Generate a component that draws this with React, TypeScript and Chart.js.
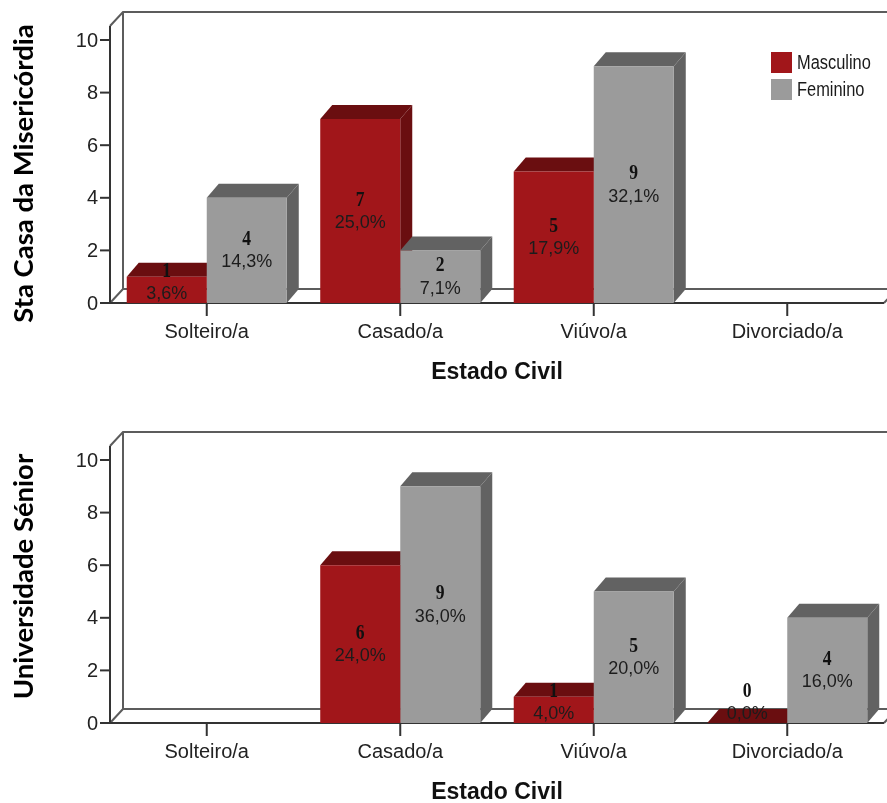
import React, { useEffect, useRef } from "react";
import { Chart, registerables } from "chart.js";

Chart.register(...registerables);

// Categories and tick values
const categories = ["Solteiro/a", "Casado/a", "Viúvo/a", "Divorciado/a"];
const seriesNames = ["Masculino", "Feminino"];
const yTicks = [0, 2, 4, 6, 8, 10];
const xTitle = "Estado Civil";

// Sta Casa da Misericórdia — counts and percentages
const santaCasaMasculino = [1, 7, 5, null];
const santaCasaFeminino = [4, 2, 9, null];
const santaCasaMasculinoPct = [3.6, 25.0, 17.9, null];
const santaCasaFemininoPct = [14.3, 7.1, 32.1, null];

// Universidade Sénior — counts and percentages
const seniorMasculino = [null, 6, 1, 0];
const seniorFeminino = [null, 9, 5, 4];
const seniorMasculinoPct = [null, 24.0, 4.0, 0.0];
const seniorFemininoPct = [null, 36.0, 20.0, 16.0];

const FRONT = ["#a1161a", "#9b9b9b"];
const DARK = ["#6a0e10", "#626262"];
const BAR_DEPTH = { x: 12, y: 14 };
const WALL_DEPTH = { x: 13, y: 14 };

const SANS = "'Liberation Sans', Arial, sans-serif";
const SERIF = "'Liberation Serif', 'Times New Roman', serif";

function fmtPct(v: number) {
  return v.toFixed(1).replace(".", ",") + "%";
}

// text drawn with a horizontal squeeze
function squeezed(ctx: CanvasRenderingContext2D, text: string, x: number, y: number, sx: number) {
  ctx.save();
  ctx.translate(x, y);
  ctx.scale(sx, 1);
  ctx.fillText(text, 0, 0);
  ctx.restore();
}

const panelPlugin = {
  id: "panel3d",
  beforeDatasetsDraw(chart: any) {
    const ctx = chart.ctx as CanvasRenderingContext2D;
    const ca = chart.chartArea;
    const W = chart.width;
    const y0 = ca.bottom;
    const frontTop = ca.top - 14;
    const bx = ca.left + WALL_DEPTH.x;
    const bTop = frontTop - WALL_DEPTH.y;
    const bFloor = y0 - WALL_DEPTH.y;

    ctx.save();
    // back wall and floor outline
    ctx.strokeStyle = "#5c5c5c";
    ctx.lineWidth = 2;
    ctx.beginPath();
    ctx.moveTo(ca.left, frontTop);
    ctx.lineTo(bx, bTop);
    ctx.lineTo(W, bTop);
    ctx.moveTo(bx, bTop);
    ctx.lineTo(bx, bFloor);
    ctx.lineTo(W, bFloor);
    ctx.moveTo(ca.left, y0);
    ctx.lineTo(bx, bFloor);
    ctx.moveTo(ca.right, y0);
    ctx.lineTo(ca.right + WALL_DEPTH.x, bFloor);
    ctx.stroke();

    // front axis lines
    ctx.strokeStyle = "#333333";
    ctx.beginPath();
    ctx.moveTo(ca.left, frontTop);
    ctx.lineTo(ca.left, y0);
    ctx.lineTo(ca.right, y0);
    ctx.stroke();

    // top and side faces of the bars, drawn behind the front faces
    const n = chart.data.labels.length;
    for (let i = 0; i < n; i++) {
      for (let d = 0; d < chart.data.datasets.length; d++) {
        const v = chart.data.datasets[d].data[i];
        if (v == null) continue;
        const el = chart.getDatasetMeta(d).data[i];
        const p = el.getProps(["x", "y", "base", "width"], true);
        const l = p.x - p.width / 2;
        const r = p.x + p.width / 2;
        const top = Math.min(p.y, p.base);
        const bottom = Math.max(p.y, p.base);
        const dx = BAR_DEPTH.x;
        const dy = BAR_DEPTH.y;
        ctx.fillStyle = DARK[d];
        ctx.beginPath();
        ctx.moveTo(l, top);
        ctx.lineTo(l + dx, top - dy);
        ctx.lineTo(r + dx, top - dy);
        ctx.lineTo(r, top);
        ctx.closePath();
        ctx.fill();
        ctx.beginPath();
        ctx.moveTo(r, top);
        ctx.lineTo(r + dx, top - dy);
        ctx.lineTo(r + dx, bottom - dy);
        ctx.lineTo(r, bottom);
        ctx.closePath();
        ctx.fill();
      }
    }
    ctx.restore();
  },
  afterDatasetsDraw(chart: any, _args: any, opts: any) {
    const ctx = chart.ctx as CanvasRenderingContext2D;
    const ca = chart.chartArea;
    const y0 = ca.bottom;
    const xs = chart.scales.x;
    const ys = chart.scales.y;
    ctx.save();

    // value labels: count and percentage
    const n = chart.data.labels.length;
    for (let d = 0; d < chart.data.datasets.length; d++) {
      const pcts = opts.percents[d];
      for (let i = 0; i < n; i++) {
        const v = chart.data.datasets[d].data[i];
        if (v == null) continue;
        const el = chart.getDatasetMeta(d).data[i];
        const p = el.getProps(["x", "y", "base"], true);
        const mid = (Math.min(p.y, p.base) + Math.max(p.y, p.base)) / 2;
        const c = Math.min(mid, y0 - 21);
        ctx.textAlign = "center";
        ctx.textBaseline = "middle";
        ctx.fillStyle = "#111111";
        ctx.font = `bold 22px ${SERIF}`;
        squeezed(ctx, String(v), p.x, c - 11, 0.8);
        ctx.fillStyle = "#1c1c1c";
        ctx.font = `18px ${SANS}`;
        ctx.fillText(fmtPct(pcts[i]), p.x, c + 12);
      }
    }

    // y axis ticks
    ctx.strokeStyle = "#333333";
    ctx.lineWidth = 2;
    ctx.fillStyle = "#222222";
    ctx.font = `20px ${SANS}`;
    ctx.textAlign = "right";
    ctx.textBaseline = "middle";
    for (const t of yTicks) {
      const py = ys.getPixelForValue(t);
      ctx.beginPath();
      ctx.moveTo(ca.left - 10, py);
      ctx.lineTo(ca.left, py);
      ctx.stroke();
      ctx.fillText(String(t), ca.left - 12, py + 1);
    }

    // x axis ticks and labels
    ctx.textAlign = "center";
    for (let i = 0; i < n; i++) {
      const px = xs.getPixelForValue(i);
      ctx.beginPath();
      ctx.moveTo(px, y0);
      ctx.lineTo(px, y0 + 13);
      ctx.stroke();
      ctx.fillText(chart.data.labels[i], px, y0 + 29);
    }

    // x title
    ctx.font = `bold 23px ${SANS}`;
    ctx.fillStyle = "#111111";
    ctx.fillText(xTitle, (ca.left + ca.right) / 2, y0 + 70);

    // y title (rotated)
    ctx.save();
    ctx.translate(24, (ca.top + ca.bottom) / 2 + opts.titleShift);
    ctx.rotate(-Math.PI / 2);
    ctx.font = `bold ${opts.titleSize}px Lato, ${SANS}`;
    ctx.fillStyle = "#000000";
    ctx.textAlign = "center";
    ctx.textBaseline = "middle";
    ctx.fillText(opts.title, 0, 0);
    ctx.restore();

    // legend
    if (opts.showLegend) {
      const lx = ca.right - 113;
      const ly = ca.top + 12;
      ctx.font = `20px ${SANS}`;
      ctx.textAlign = "left";
      ctx.textBaseline = "middle";
      for (let d = 0; d < chart.data.datasets.length; d++) {
        const sy = ly + d * 27;
        ctx.fillStyle = FRONT[d];
        ctx.fillRect(lx, sy, 21, 21);
        ctx.fillStyle = "#1a1a1a";
        squeezed(ctx, chart.data.datasets[d].label, lx + 26, sy + 11, 0.82);
      }
    }
    ctx.restore();
  },
};

type PanelProps = {
  title: string;
  titleSize: number;
  male: (number | null)[];
  female: (number | null)[];
  malePct: (number | null)[];
  femalePct: (number | null)[];
  showLegend: boolean;
  titleShift: number;
  top: number;
  height: number;
  padTop: number;
  padBottom: number;
};

function Panel(props: PanelProps) {
  const ref = useRef<HTMLCanvasElement | null>(null);
  useEffect(() => {
    if (!ref.current) return;
    const chart = new Chart(ref.current, {
      type: "bar",
      data: {
        labels: categories,
        datasets: [
          {
            label: seriesNames[0],
            data: props.male,
            backgroundColor: FRONT[0],
            borderWidth: 0,
            categoryPercentage: 0.827,
            barPercentage: 1,
          },
          {
            label: seriesNames[1],
            data: props.female,
            backgroundColor: FRONT[1],
            borderWidth: 0,
            categoryPercentage: 0.827,
            barPercentage: 1,
          },
        ],
      },
      options: {
        animation: false,
        responsive: false,
        events: [],
        layout: { padding: { left: 110, right: 3, top: props.padTop, bottom: props.padBottom } },
        scales: {
          x: { display: false, offset: true },
          y: { display: false, min: 0, max: 10 },
        },
        plugins: {
          legend: { display: false },
          tooltip: { enabled: false },
          panel3d: {
            title: props.title,
            titleSize: props.titleSize,
            percents: [props.malePct, props.femalePct],
            showLegend: props.showLegend,
            titleShift: props.titleShift,
          },
        } as any,
      },
      plugins: [panelPlugin as any],
    } as any);
    return () => chart.destroy();
  }, []);
  return (
    <canvas
      ref={ref}
      width={887}
      height={props.height}
      style={{ position: "absolute", left: 0, top: props.top, width: 887, height: props.height }}
    />
  );
}

export default function App() {
  return (
    <div style={{ position: "absolute", left: 0, top: 0, width: 887, height: 803, background: "#ffffff" }}>
      <Panel
        title="Sta Casa da Misericórdia"
        titleSize={27.5}
        male={santaCasaMasculino}
        female={santaCasaFeminino}
        malePct={santaCasaMasculinoPct}
        femalePct={santaCasaFemininoPct}
        showLegend={true}
        titleShift={2}
        top={0}
        height={400}
        padTop={40}
        padBottom={97}
      />
      <Panel
        title="Universidade Sénior"
        titleSize={27.5}
        male={seniorMasculino}
        female={seniorFeminino}
        malePct={seniorMasculinoPct}
        femalePct={seniorFemininoPct}
        showLegend={false}
        titleShift={-15}
        top={410}
        height={393}
        padTop={50}
        padBottom={80}
      />
    </div>
  );
}
